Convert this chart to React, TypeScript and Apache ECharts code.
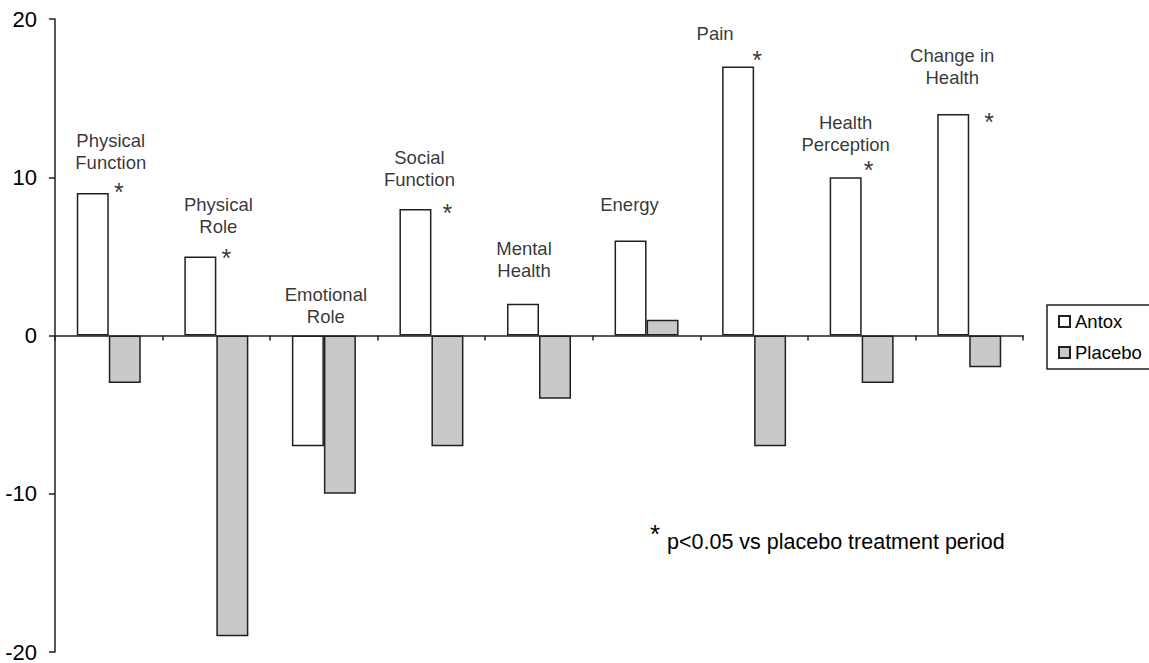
import React, { useEffect, useRef } from "react";
import * as echarts from "echarts";

const categories = [
  "Physical\nFunction",
  "Physical\nRole",
  "Emotional\nRole",
  "Social\nFunction",
  "Mental\nHealth",
  "Energy",
  "Pain",
  "Health\nPerception",
  "Change in\nHealth",
];
const antox = [9, 5, -7, 8, 2, 6, 17, 10, 14];
const placebo = [-3, -19, -10, -7, -4, 1, -7, -3, -2];
const significant = [true, true, false, true, false, false, true, true, true];
const yTicks = [-20, -10, 0, 10, 20];
const footnote = "p<0.05 vs placebo treatment period";

// layout-only label offsets (px) relative to each Antox bar top
const LABEL_OFFSETS: [number, number][] = [
  [2, -20], [2, -19], [2, -8], [-12, -18], [-15, -22], [-17, -25], [-39, -22], [-16, -22], [-17, -25],
];
const STAR_OFFSETS: [number, number][] = [
  [10, -1], [10, 2], [0, 0], [16, 4], [0, 0], [0, 0], [3, -6], [7, -7], [20, 8],
];

const FONT = "Liberation Sans, Arial, sans-serif";
const INK = "#231f20";

export default function App() {
  const ref = useRef<HTMLDivElement>(null);
  useEffect(() => {
    if (!ref.current) return;
    const chart = echarts.init(ref.current, null, { renderer: "svg" });
    const labelData = antox.map((v, i) => ({
      value: [i, Math.max(v, 0)],
      label: { offset: LABEL_OFFSETS[i] },
    }));
    const starData = antox
      .map((v, i) => ({ v, i }))
      .filter((d) => significant[d.i])
      .map((d) => ({ value: [d.i, d.v], label: { offset: STAR_OFFSETS[d.i] } }));
    chart.setOption({
      animation: false,
      textStyle: { fontFamily: FONT },
      grid: { left: 55, right: 126, top: 19, bottom: 5, containLabel: false },
      legend: {
        data: ["Antox", "Placebo"],
        orient: "vertical",
        left: 1047,
        top: 305,
        borderColor: INK,
        borderWidth: 1.5,
        padding: [7, 40, 7, 11],
        itemWidth: 11,
        itemHeight: 11,
        itemGap: 12,
        icon: "rect",
        textStyle: { fontSize: 18.5, color: "#000", fontFamily: FONT },
      },
      xAxis: {
        type: "category",
        data: categories,
        axisLine: { onZero: true, lineStyle: { color: INK, width: 1.5 } },
        axisTick: { show: true, length: 5, alignWithLabel: false, lineStyle: { color: INK, width: 1.5 } },
        axisLabel: { show: false },
        splitLine: { show: false },
      },
      yAxis: {
        type: "value",
        min: yTicks[0],
        max: yTicks[yTicks.length - 1],
        interval: 10,
        axisLine: { show: true, onZero: false, lineStyle: { color: INK, width: 1.5 } },
        axisTick: { show: true, length: 6, lineStyle: { color: INK, width: 1.5 } },
        axisLabel: { fontSize: 22, color: "#000", margin: 18, fontFamily: FONT },
        splitLine: { show: false },
      },
      series: [
        {
          name: "Antox",
          type: "bar",
          data: antox,
          barWidth: 32,
          barGap: "0%",
          itemStyle: { color: "#ffffff", borderColor: INK, borderWidth: 1.5 },
        },
        {
          name: "Placebo",
          type: "bar",
          data: placebo,
          barWidth: 32,
          itemStyle: { color: "#c8c9cb", borderColor: INK, borderWidth: 1.5 },
        },
        {
          name: "labels",
          type: "scatter",
          data: labelData,
          symbolSize: 0,
          silent: true,
          z: 5,
          label: {
            show: true,
            position: "top",
            distance: 0,
            formatter: (p: any) => categories[p.value[0]],
            fontSize: 18.5,
            lineHeight: 22,
            color: "#000",
            align: "center",
            fontFamily: FONT,
          },
        },
        {
          name: "stars",
          type: "scatter",
          data: starData,
          symbolSize: 0,
          silent: true,
          z: 5,
          label: {
            show: true,
            position: "inside",
            formatter: "*",
            fontSize: 25,
            color: "#000",
            align: "center",
            verticalAlign: "middle",
            fontFamily: FONT,
          },
        },
      ],
      graphic: [
        {
          type: "text",
          left: 650,
          top: 521,
          style: { text: "*", fontSize: 26, fill: "#000", fontFamily: FONT },
        },
        {
          type: "text",
          left: 667,
          top: 531,
          style: { text: footnote, fontSize: 21.5, fill: "#000", fontFamily: FONT },
        },
      ],
    });
    return () => chart.dispose();
  }, []);
  return (
    <div
      ref={ref}
      style={{ position: "fixed", left: 0, top: 0, width: 1149, height: 663, background: "#fff" }}
    />
  );
}
